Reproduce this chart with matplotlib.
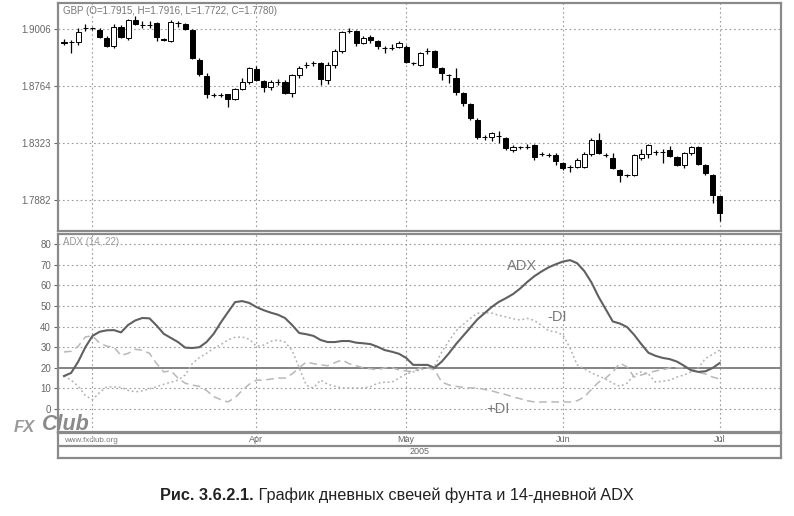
import numpy as np
import matplotlib.pyplot as plt

plt.rcParams['font.family'] = ['Liberation Sans', 'DejaVu Sans']

# daily GBP candles, Feb 23 .. Jul 1 2005 (index = trading day)
opens = [1.9104, 1.9104, 1.9104, 1.9213, 1.9213, 1.9197, 1.9135, 1.9073, 1.9220, 1.9135,
         1.9275, 1.9236, 1.9236, 1.9251, 1.9128, 1.9112, 1.9251, 1.9244, 1.9197, 1.8965,
         1.8841, 1.8694, 1.8694, 1.8702, 1.8663, 1.8741, 1.8795, 1.8895, 1.8803, 1.8756,
         1.8795, 1.8795, 1.8710, 1.8849, 1.8926, 1.8942, 1.8942, 1.8810, 1.8926, 1.9035,
         1.9190, 1.9190, 1.9097, 1.9143, 1.9112, 1.9058, 1.9058, 1.9066, 1.9066, 1.8942,
         1.8926, 1.9035, 1.9035, 1.8903, 1.8849, 1.8826, 1.8710, 1.8624, 1.8501, 1.8369,
         1.8369, 1.8377, 1.8361, 1.8268, 1.8292, 1.8292, 1.8307, 1.8237, 1.8230, 1.8230,
         1.8168, 1.8137, 1.8137, 1.8137, 1.8237, 1.8346, 1.8230, 1.8207, 1.8114, 1.8075,
         1.8075, 1.8207, 1.8237, 1.8253, 1.8253, 1.8268, 1.8214, 1.8152, 1.8245, 1.8292,
         1.8152, 1.8075, 1.7915]
highs = [1.9128, 1.9120, 1.9213, 1.9244, 1.9220, 1.9213, 1.9151, 1.9244, 1.9236, 1.9282,
         1.9306, 1.9267, 1.9267, 1.9259, 1.9135, 1.9275, 1.9267, 1.9251, 1.9205, 1.8981,
         1.8864, 1.8710, 1.8710, 1.8705, 1.8748, 1.8826, 1.8911, 1.8919, 1.8810, 1.8810,
         1.8818, 1.8810, 1.8857, 1.8919, 1.8950, 1.8957, 1.8950, 1.8950, 1.9050, 1.9190,
         1.9213, 1.9197, 1.9151, 1.9159, 1.9120, 1.9073, 1.9089, 1.9112, 1.9081, 1.8950,
         1.9027, 1.9058, 1.9042, 1.8911, 1.8857, 1.8903, 1.8717, 1.8632, 1.8516, 1.8385,
         1.8408, 1.8416, 1.8369, 1.8307, 1.8300, 1.8315, 1.8315, 1.8253, 1.8245, 1.8245,
         1.8176, 1.8152, 1.8207, 1.8253, 1.8361, 1.8400, 1.8245, 1.8245, 1.8122, 1.8083,
         1.8237, 1.8276, 1.8315, 1.8268, 1.8276, 1.8300, 1.8222, 1.8253, 1.8300, 1.8300,
         1.8160, 1.8083, 1.7916]
lows = [1.9081, 1.9019, 1.9081, 1.9190, 1.9197, 1.9135, 1.9066, 1.9058, 1.9135, 1.9120,
        1.9236, 1.9213, 1.9213, 1.9112, 1.9112, 1.9104, 1.9220, 1.9197, 1.8973, 1.8841,
        1.8671, 1.8679, 1.8679, 1.8601, 1.8655, 1.8733, 1.8779, 1.8803, 1.8717, 1.8733,
        1.8772, 1.8702, 1.8679, 1.8826, 1.8903, 1.8919, 1.8772, 1.8779, 1.8903, 1.9019,
        1.9174, 1.9073, 1.9089, 1.9097, 1.9050, 1.9019, 1.9042, 1.9058, 1.8942, 1.8926,
        1.8919, 1.9012, 1.8903, 1.8810, 1.8787, 1.8694, 1.8609, 1.8501, 1.8354, 1.8346,
        1.8338, 1.8323, 1.8268, 1.8253, 1.8276, 1.8276, 1.8191, 1.8222, 1.8214, 1.8152,
        1.8114, 1.8098, 1.8129, 1.8129, 1.8222, 1.8237, 1.8214, 1.8122, 1.8021, 1.8060,
        1.8067, 1.8191, 1.8207, 1.8230, 1.8168, 1.8214, 1.8145, 1.8129, 1.8230, 1.8152,
        1.8075, 1.7858, 1.7722]
closes = [1.9100, 1.9106, 1.9182, 1.9210, 1.9212, 1.9143, 1.9073, 1.9220, 1.9143, 1.9275,
          1.9244, 1.9232, 1.9238, 1.9143, 1.9120, 1.9259, 1.9248, 1.9205, 1.8981, 1.8857,
          1.8702, 1.8692, 1.8696, 1.8663, 1.8741, 1.8795, 1.8903, 1.8810, 1.8756, 1.8795,
          1.8798, 1.8710, 1.8849, 1.8903, 1.8930, 1.8945, 1.8818, 1.8926, 1.9035, 1.9182,
          1.9193, 1.9097, 1.9135, 1.9120, 1.9073, 1.9055, 1.9060, 1.9097, 1.8950, 1.8938,
          1.9019, 1.9032, 1.8911, 1.8864, 1.8846, 1.8717, 1.8632, 1.8516, 1.8369, 1.8366,
          1.8400, 1.8374, 1.8284, 1.8292, 1.8289, 1.8294, 1.8214, 1.8240, 1.8232, 1.8183,
          1.8129, 1.8140, 1.8191, 1.8237, 1.8346, 1.8245, 1.8227, 1.8129, 1.8075, 1.8072,
          1.8230, 1.8237, 1.8307, 1.8255, 1.8250, 1.8222, 1.8152, 1.8245, 1.8292, 1.8160,
          1.8090, 1.7920, 1.7780]

adx = [16, 17.5, 23, 30, 35.5, 37.5, 38.2, 38.3, 37.2, 40.8,
       43, 44.2, 44, 40.5, 36.5, 34.5, 32.5, 29.8, 29.6, 30,
       32.5, 36.5, 42, 47, 51.9, 52.4, 51.5, 49.5, 48, 46.8,
       45.8, 44.2, 40.8, 36.9, 36.3, 35.5, 33.5, 32.5, 32.5, 33,
       33, 32.2, 31.9, 31.5, 30.2, 28.6, 27.8, 26.8, 24.8, 21.4,
       21.4, 21.4, 20, 23, 27, 31.5, 35.5, 39.5, 43.5, 46.5,
       49.5, 52, 53.8, 55.8, 58.5, 61.7, 64.5, 66.8, 68.8, 70.3,
       71.6, 72.3, 70.8, 67, 61.5, 54.5, 48.5, 42.5, 41.5, 39.8,
       36, 31.5, 27.3, 25.8, 24.8, 24.2, 23, 21, 18.8, 18,
       18.3, 19.9, 22.3]
plus_di = [27.7, 28, 30.5, 35, 35.5, 32, 30.5, 30, 26, 27,
           29, 28.5, 27, 22, 18, 18.5, 15, 12.5, 11.6, 11,
           9, 6, 4.5, 3.4, 5.5, 9, 12, 14, 14, 14.5,
           15, 15, 17, 20, 22.8, 22, 21.4, 21, 22.5, 23.8,
           22, 21, 20, 19.5, 19, 20, 20, 19, 18.5, 18,
           20, 20, 19, 13, 11.7, 11, 10.5, 10.2, 10.2, 9.5,
           8.8, 7.8, 7, 5.8, 5, 4, 3.4, 3.4, 3.4, 3.4,
           3.4, 3.4, 4, 5.8, 9.5, 13, 15, 18, 22.3, 20.4,
           15.5, 16.5, 17.5, 18.5, 19, 20, 20, 20, 19, 17.8,
           17, 15.5, 14.5]
minus_di = [16, 14, 11, 6.5, 4.5, 8, 10.7, 10.7, 10.5, 9,
            8.3, 8.8, 9.8, 10.8, 12, 13, 14, 16.5, 22, 25,
            27, 29.5, 31.2, 33.5, 34.8, 35, 33.8, 30.5, 31, 32.8,
            33.5, 32.5, 28.5, 20, 11.5, 10.2, 14, 12, 11, 10.2,
            10.2, 10.2, 10.2, 10.8, 12.5, 13, 13, 15, 17, 18,
            19, 20, 21, 27.7, 33, 38, 41, 44, 46.5, 46.8,
            46.6, 45.5, 44.7, 43.8, 43.2, 44, 43, 40.5, 38, 37.4,
            36, 29.6, 21.4, 19.5, 17.5, 16, 14.5, 12.5, 11, 12.5,
            16.5, 18, 17, 13, 13.5, 14, 15.5, 16.5, 18, 20,
            24.5, 26.5, 28.6]

# month gridlines; the Mar label is hidden under the watermark in the original
month_pos = [4, 27, 48, 70, 92]
month_names = ['', 'Apr', 'May', 'Jun', 'Jul']
price_ticks = [1.9205, 1.8764, 1.8323, 1.7882]
price_labels = ['1.9006', '1.8764', '1.8323', '1.7882']
adx_ticks = [0, 10, 20, 30, 40, 50, 60, 70, 80]

W, H = 794, 516
fig = plt.figure(figsize=(W / 100, H / 100), dpi=100)
frame = '#8a8a8a'
txt = '#666666'
grid = dict(color='#9a9a9a', linestyle=(0, (1.5, 2.5)), linewidth=0.8)


def box(l, t, r, b):
    return [l / W, 1 - b / H, (r - l) / W, (b - t) / H]


def style(ax):
    for s in ax.spines.values():
        s.set_color(frame)
        s.set_linewidth(1.6)
    ax.tick_params(axis='y', colors=txt, labelsize=7, length=3, width=0.8, pad=2)
    ax.tick_params(axis='x', length=0, labelbottom=False)
    ax.set_xlim(-0.84, 100.6)


x = np.arange(len(opens))

# price panel
ax1 = fig.add_axes(box(58, 3, 781, 231))
style(ax1)
ax1.set_ylim(1.7642, 1.9406)
ax1.set_yticks(price_ticks)
ax1.set_yticklabels(price_labels)
for p in price_ticks:
    ax1.axhline(p, **grid, zorder=0)
for m in month_pos:
    ax1.axvline(m, **grid, zorder=0)
ax1.vlines(x, lows, highs, color='black', linewidth=0.9, zorder=2)
o = np.array(opens)
c = np.array(closes)
bottom = np.minimum(o, c)
height = np.maximum(np.abs(c - o), 0.00005)
face = np.where(c < o, 'black', 'white')
ax1.bar(x, height, bottom=bottom, width=0.72, color=face, edgecolor='black',
        linewidth=0.7, zorder=3)
ax1.text(0.007, 0.985, 'GBP (O=1.7915, H=1.7916, L=1.7722, C=1.7780)',
         transform=ax1.transAxes, fontsize=7, color='#777777', va='top', ha='left')

# ADX panel
ax2 = fig.add_axes(box(58, 234, 781, 432))
style(ax2)
ax2.set_ylim(-11.2, 85)
ax2.set_yticks(adx_ticks)
for v in adx_ticks:
    if v != 20:
        ax2.axhline(v, **grid, zorder=0)
ax2.axhline(20, color='#7a7a7a', linewidth=1.3, zorder=1)
for m in month_pos:
    ax2.axvline(m, **grid, zorder=0)
ax2.plot(x, adx, color='#606060', linewidth=1.5, zorder=3)
ax2.plot(x, minus_di, color='#b0b0b0', linewidth=1.1, linestyle=(0, (1.2, 1.8)), zorder=2)
ax2.plot(x, plus_di, color='#b8b8b8', linewidth=1.1, linestyle=(0, (5, 3)), zorder=2)
ax2.text(0.007, 0.985, 'ADX (14, 22)', transform=ax2.transAxes, fontsize=7,
         color='#9a9a9a', va='top', ha='left')
ax2.text(64.2, 69.5, 'ADX', fontsize=10.5, color='#7a7a7a', ha='center', va='center')
ax2.text(69.2, 44.5, '-DI', fontsize=10.5, color='#7a7a7a', ha='center', va='center')
ax2.text(60.9, 0, '+DI', fontsize=10.5, color='#7a7a7a', ha='center', va='center')

# date strip
ax3 = fig.add_axes(box(58, 433, 781, 458))
style(ax3)
ax3.set_ylim(0, 2)
ax3.set_yticks([])
ax3.axhline(1, color=frame, linewidth=1.6)
for m, name in zip(month_pos, month_names):
    ax3.vlines(m, 1, 2, **grid)
    ax3.text(m, 1.5, name, fontsize=6.5, color=txt, ha='center', va='center')
ax3.text(48.5, 0.5, '2005', fontsize=6.5, color=txt, ha='left', va='center')

# watermark
fig.text(14 / W, 1 - 428 / H, 'FX', fontsize=12, style='italic', fontweight='bold',
         color='#9a9a9a', ha='left', va='center')
fig.text(42 / W, 1 - 424 / H, 'Club', fontsize=15.5, style='italic', fontweight='bold',
         color='#8a8a8a', ha='left', va='center')
fig.text(64 / W, 1 - 440.5 / H, 'www.fxclub.org', fontsize=5.8, color='#7a7a7a',
         ha='left', va='center')

# caption: bold figure number, then the title right after it
cap = fig.text(160 / W, 1 - 495 / H, 'Рис. 3.6.2.1.', fontsize=11.7, fontweight='bold',
               ha='left', va='center', color='#222222')
plt.annotate(' График дневных свечей фунта и 14-дневной ADX', xy=(1, 0.5),
             xycoords=cap, fontsize=11.7, color='#222222', ha='left', va='center',
             annotation_clip=False)

fig.savefig('out.png', dpi=100, facecolor='white')
